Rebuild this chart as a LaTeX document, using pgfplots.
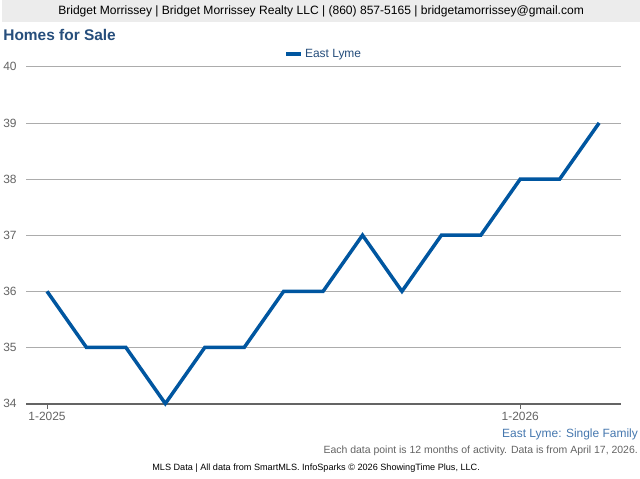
\documentclass[border=0pt]{standalone}
\usepackage{fontspec}
\setmainfont{Liberation Sans}
\usepackage{pgfplots}
\pgfplotsset{compat=1.18}
\definecolor{linecol}{RGB}{0,86,160}
\definecolor{titlecol}{RGB}{38,78,124}
\definecolor{subcol}{RGB}{70,120,175}
\definecolor{headgray}{RGB}{236,236,236}
\definecolor{tickgray}{RGB}{100,100,100}
\begin{document}
\begin{tikzpicture}[x=1pt,y=1pt]
\fill[white] (0,0) rectangle (640,480);
\fill[headgray] (0,458) rectangle (640,480);
\node[font=\fontsize{12.1}{14}\selectfont] at (320,469) {Bridget Morrissey | Bridget Morrissey Realty LLC | (860) 857-5165 | bridgetamorrissey@gmail.com};
\node[anchor=west, inner sep=0pt, text=titlecol, font=\fontsize{15.5}{18}\selectfont\bfseries] at (1,445) {Homes for Sale};
\begin{axis}[
  at={(24pt,75pt)}, anchor=south west,
  scale only axis, width=597pt, height=338pt,
  xmin=-0.53, xmax=14.556, ymin=34, ymax=40,
  axis x line=bottom, axis y line=left,
  x axis line style={-, draw=tickgray, line width=2pt},
  y axis line style={draw=none},
  xtick={0,12}, xticklabels={1-2025,1-2026},
  ytick={34,35,...,40},
  tick align=outside, major tick length=5pt,
  x tick style={draw=tickgray, line width=1pt},
  y tick style={draw=none},
  ymajorgrids, grid style={draw=gray!65, line width=0.8pt},
  /pgf/number format/assume math mode=true,
  tick label style={font=\fontsize{12}{14}\selectfont, text=tickgray},
  yticklabel style={xshift=-1pt},
  legend style={at={(0.5,1)}, anchor=south, yshift=4pt, draw=none, fill=none,
    font=\fontsize{12}{14}\selectfont, text=titlecol},
  legend image code/.code={\draw[linecol, line width=4pt] (0pt,0pt) -- (15pt,0pt);},
  clip=false,
]
\addplot[linecol, line width=3.5pt, line join=miter, mark=none] coordinates {
  (0,36) (1,35) (2,35) (3,34) (4,35) (5,35) (6,36) (7,36)
  (8,37) (9,36) (10,37) (11,37) (12,38) (13,38) (14,39)
};
\addlegendentry{East Lyme}
\end{axis}
\node[anchor=east, inner sep=0pt, text=subcol, font=\fontsize{12}{14}\selectfont] at (638,44) {East Lyme: Single Family};
\node[anchor=east, inner sep=0pt, text=tickgray, font=\fontsize{10.5}{12}\selectfont] at (638,28) {Each data point is 12 months of activity. Data is from April 17, 2026.};
\node[inner sep=0pt, font=\fontsize{9.15}{11}\selectfont] at (315,10) {MLS Data | All data from SmartMLS. InfoSparks © 2026 ShowingTime Plus, LLC.};
\end{tikzpicture}
\end{document}
